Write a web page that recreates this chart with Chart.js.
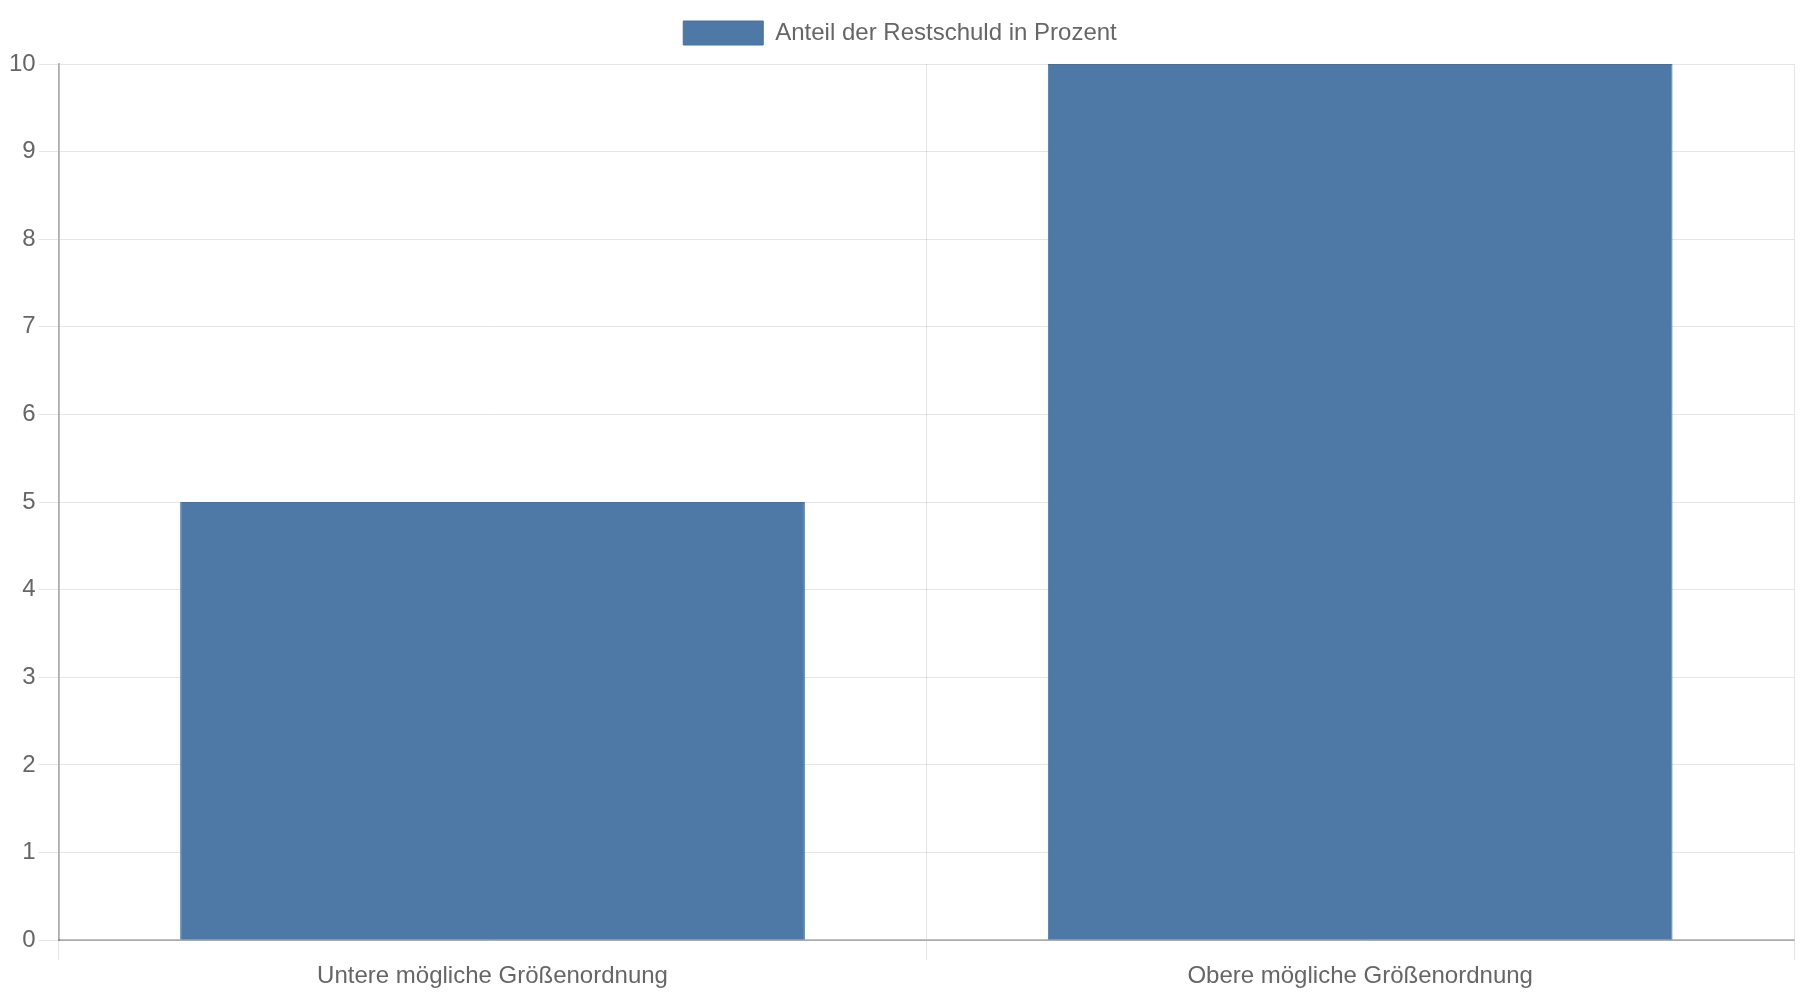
<!DOCTYPE html>
<html lang="de">
<head>
<meta charset="utf-8">
<title>Anteil der Restschuld</title>
<script src="https://cdn.jsdelivr.net/npm/chart.js@4/dist/chart.umd.min.js"></script>
<style>
  html, body { margin: 0; padding: 0; background: #fff; }
  #wrap { width: 1800px; height: 1000px; position: relative; }
</style>
</head>
<body>
<div id="wrap"><canvas id="chart"></canvas></div>
<script>
// chart data
const categories = ['Untere mögliche Größenordnung', 'Obere mögliche Größenordnung'];
const seriesLabel = 'Anteil der Restschuld in Prozent';
const seriesValues = [5, 10];
const yTicks = [0, 1, 2, 3, 4, 5, 6, 7, 8, 9, 10];

const barColor = '#4e79a7';
const gridColor = 'rgba(0,0,0,0.1)';
const axisColor = 'rgba(0,0,0,0.25)';

Chart.defaults.font.family = '"Liberation Sans", Arial, sans-serif';
Chart.defaults.font.size = 24;
Chart.defaults.color = '#666';

// extra space under the legend
const legendGap = {
  id: 'legendGap',
  beforeInit(chart) {
    const fit = chart.legend.fit;
    chart.legend.fit = function () {
      fit.bind(chart.legend)();
      this.height += 9;
    };
  }
};

const ctx = document.getElementById('chart').getContext('2d');

new Chart(ctx, {
  type: 'bar',
  data: {
    labels: categories,
    datasets: [{
      label: seriesLabel,
      data: seriesValues,
      backgroundColor: barColor,
      borderColor: '#46709c',
      borderWidth: 1
    }]
  },
  options: {
    responsive: true,
    maintainAspectRatio: false,
    animation: false,
    devicePixelRatio: 1,
    layout: { padding: { top: 2, right: 6, left: 6, bottom: 7 } },
    plugins: {
      legend: {
        display: true,
        position: 'top',
        labels: { boxWidth: 80, boxHeight: 24, padding: 19 }
      },
      tooltip: { enabled: false }
    },
    scales: {
      x: {
        grid: { color: gridColor, tickLength: 20, offset: true },
        border: { color: axisColor, width: 2 },
        ticks: { padding: 2 }
      },
      y: {
        min: yTicks[0],
        max: yTicks[yTicks.length - 1],
        afterBuildTicks: axis => { axis.ticks = yTicks.map(v => ({ value: v })); },
        grid: { color: gridColor, tickLength: 20 },
        border: { color: axisColor, width: 2 },
        ticks: { padding: 3 }
      }
    }
  },
  plugins: [legendGap]
});
</script>
</body>
</html>
